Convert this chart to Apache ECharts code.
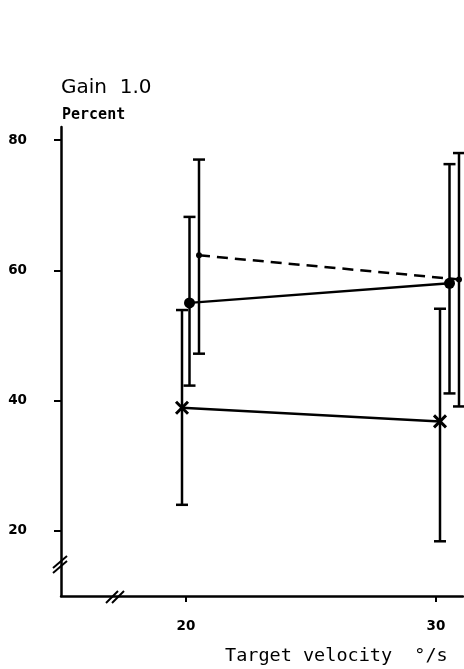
<!DOCTYPE html>
<html><head><meta charset="utf-8">
<script src="https://cdn.jsdelivr.net/npm/echarts@6/dist/echarts.min.js"></script>
<style>html,body{margin:0;padding:0;background:#fff}#c{width:464px;height:669px}</style>
</head><body><div id="c"></div>
<script>
// Data
const yTicks = [20, 40, 60, 80];
const xTicks = [20, 30];
// series A: crosses (solid line)
const crossX = [19.84, 30.16];
const crossY = [38.9, 36.8];
const crossLo = [24.0, 18.4];
const crossHi = [53.9, 54.1];
// series B: filled dots (solid line)
const dotX = [20.14, 30.54];
const dotY = [55.0, 58.0];
const dotLo = [42.3, 41.1];
const dotHi = [68.2, 76.3];
// series C: small dots (dashed line)
const dashX = [20.52, 30.92];
const dashY = [62.3, 58.6];
const dashLo = [47.2, 39.1];
const dashHi = [77.0, 78.0];

const pts = (xs, ys) => xs.map((x, i) => [x, ys[i]]);
const errs = (xs, lo, hi) => xs.map((x, i) => [x, lo[i], hi[i]]);

function errBar(params, api) {
  const x = api.value(0);
  const lo = api.coord([x, api.value(1)]);
  const hi = api.coord([x, api.value(2)]);
  const cap = 6;
  const st = { stroke: '#000', lineWidth: 2.5 };
  return { type: 'group', children: [
    { type: 'line', shape: { x1: lo[0], y1: lo[1], x2: hi[0], y2: hi[1] }, style: st },
    { type: 'line', shape: { x1: lo[0] - cap, y1: lo[1], x2: lo[0] + cap, y2: lo[1] }, style: st },
    { type: 'line', shape: { x1: hi[0] - cap, y1: hi[1], x2: hi[0] + cap, y2: hi[1] }, style: st }
  ]};
}

const crossPath = 'path://M0,0L10,10M10,0L0,10';
const chart = echarts.init(document.getElementById('c'));
const F = '"DejaVu Sans", sans-serif';
const M = '"DejaVu Sans Mono", monospace';
chart.setOption({
  animation: false,
  backgroundColor: '#fff',
  grid: { left: 61, top: 127, width: 402, height: 469 },
  title: [
    { text: 'Gain  1.0', left: 56, top: 73, textStyle: { fontFamily: F, fontSize: 20, fontWeight: 'normal', color: '#000' } },
    { text: 'Percent', left: 57, top: 103, textStyle: { fontFamily: M, fontSize: 15, fontWeight: 'bold', color: '#000' } },
    { text: 'Target velocity  °/s', left: 220, top: 642, textStyle: { fontFamily: M, fontSize: 18.5, fontWeight: 'normal', color: '#000' } }
  ],
  xAxis: {
    type: 'value', min: 15, max: 31.08,
    splitLine: { show: false },
    axisLine: { onZero: false, lineStyle: { color: '#000', width: 2.5 } },
    axisTick: { customValues: xTicks, length: 6, lineStyle: { color: '#000', width: 2 } },
    axisLabel: { customValues: xTicks, margin: 23, fontFamily: F, fontSize: 13.5, fontWeight: 'bold', color: '#000' }
  },
  yAxis: {
    type: 'value', min: 10, max: 82,
    splitLine: { show: false },
    axisLine: { onZero: false, lineStyle: { color: '#000', width: 2.5 } },
    axisTick: { customValues: yTicks, length: 7, lineStyle: { color: '#000', width: 2 } },
    axisLabel: { customValues: yTicks, margin: 34, fontFamily: F, fontSize: 13.5, fontWeight: 'bold', color: '#000' }
  },
  graphic: [
    { type: 'line', shape: { x1: 53, y1: 568, x2: 67, y2: 556 }, style: { stroke: '#000', lineWidth: 2 } },
    { type: 'line', shape: { x1: 53, y1: 573, x2: 67, y2: 561 }, style: { stroke: '#000', lineWidth: 2 } },
    { type: 'line', shape: { x1: 106, y1: 603, x2: 118, y2: 591 }, style: { stroke: '#000', lineWidth: 2 } },
    { type: 'line', shape: { x1: 112, y1: 603, x2: 124, y2: 591 }, style: { stroke: '#000', lineWidth: 2 } }
  ],
  series: [
    { type: 'custom', renderItem: errBar, data: errs(crossX, crossLo, crossHi), z: 2 },
    { type: 'custom', renderItem: errBar, data: errs(dotX, dotLo, dotHi), z: 2 },
    { type: 'custom', renderItem: errBar, data: errs(dashX, dashLo, dashHi), z: 2 },
    { type: 'line', data: pts(crossX, crossY), symbol: crossPath, symbolSize: 12,
      lineStyle: { color: '#000', width: 2.5 }, itemStyle: { color: '#000', borderColor: '#000', borderWidth: 3 }, z: 3 },
    { type: 'line', data: pts(dotX, dotY), symbol: 'circle', symbolSize: 11,
      lineStyle: { color: '#000', width: 2.5 }, itemStyle: { color: '#000' }, z: 3 },
    { type: 'line', data: pts(dashX, dashY), symbol: 'circle', symbolSize: 6,
      lineStyle: { color: '#000', width: 2.5, type: [11, 7] }, itemStyle: { color: '#000' }, z: 3 }
  ]
});
</script></body></html>
